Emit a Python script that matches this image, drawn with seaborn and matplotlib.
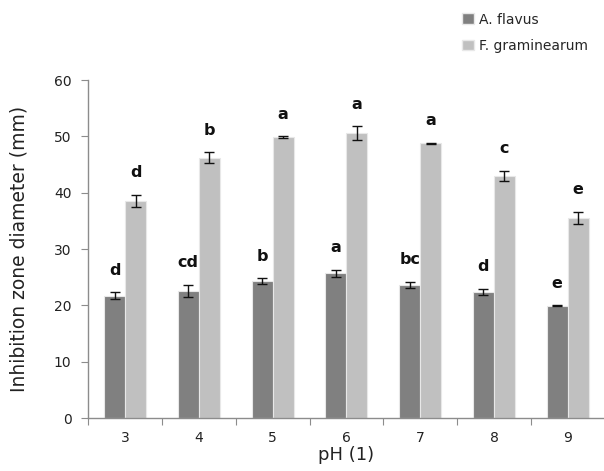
import pandas as pd
import numpy as np
import matplotlib
matplotlib.use("Agg")
import matplotlib.pyplot as plt
import seaborn as sns
from matplotlib.patches import Patch

# ---- data ----
ph = ["3", "4", "5", "6", "7", "8", "9"]
flavus = [21.7, 22.6, 24.3, 25.7, 23.6, 22.4, 19.9]
flavus_err = [0.6, 1.1, 0.5, 0.6, 0.6, 0.5, 0.1]
flavus_sig = ["d", "cd", "b", "a", "bc", "d", "e"]
gram = [38.5, 46.2, 49.9, 50.6, 48.8, 43.0, 35.5]
gram_err = [1.1, 1.0, 0.1, 1.2, 0.1, 0.9, 1.1]
gram_sig = ["d", "b", "a", "a", "a", "c", "e"]
species = ["A. flavus", "F. graminearum"]
colors = ["#808080", "#c0c0c0"]

df = pd.DataFrame({
    "pH": ph * 2,
    "value": flavus + gram,
    "err": flavus_err + gram_err,
    "sig": flavus_sig + gram_sig,
    "species": [species[0]] * len(ph) + [species[1]] * len(ph),
})

sns.set_style("white")
plt.rcParams["font.family"] = ["DejaVu Sans"]

fig = plt.figure(figsize=(6.04, 4.71), dpi=100)
ax = fig.add_axes([0.146, 0.1125, 0.855, 0.7175])

sns.barplot(data=df, x="pH", y="value", hue="species", palette=colors,
            errorbar=None, width=0.57, edgecolor="#e8e8e8", linewidth=0.8,
            legend=False, ax=ax)

# error bars and significance letters on each bar
for i, sp in enumerate(species):
    sub = df[df["species"] == sp].reset_index(drop=True)
    cont = ax.containers[i]
    for bar, (_, row) in zip(cont, sub.iterrows()):
        xc = bar.get_x() + bar.get_width() / 2
        ax.errorbar(xc, row["value"], yerr=row["err"], fmt="none",
                    ecolor="#111111", elinewidth=1.0, capsize=3.5, capthick=1.0)
        ax.text(xc, row["value"] + row["err"] + 2.6, row["sig"],
                ha="center", va="bottom", fontsize=11.5, fontweight="bold",
                color="#111111")

ax.set_ylim(0, 60)
ax.set_yticks(range(0, 61, 10))
ax.set_xlim(-0.5, len(ph) - 0.5)

for s in ["top", "right"]:
    ax.spines[s].set_visible(False)
for s in ["left", "bottom"]:
    ax.spines[s].set_color("#8c8c8c")
    ax.spines[s].set_linewidth(1.0)

# category boundary ticks on x, labels centered
ax.set_xticks(np.arange(-0.5, len(ph), 1.0), minor=False)
ax.set_xticklabels([])
ax.set_xticks(range(len(ph)), minor=True)
ax.set_xticklabels(ph, minor=True)
ax.tick_params(axis="x", which="major", length=5, color="#8c8c8c", direction="out", bottom=True)
ax.tick_params(axis="x", which="minor", length=0, labelsize=10, labelcolor="#222222", pad=9)
ax.tick_params(axis="y", length=5, color="#8c8c8c", direction="out", left=True,
               labelsize=10, labelcolor="#222222", pad=7)

ax.set_xlabel("pH (1)", fontsize=13, color="#222222", labelpad=1)
ax.set_ylabel("Inhibition zone diameter (mm)", fontsize=13.5, color="#222222", labelpad=18)

handles = [Patch(facecolor=c, edgecolor="#e8e8e8", label=s) for c, s in zip(colors, species)]
fig.legend(handles=handles, loc="upper left", bbox_to_anchor=(0.745, 1.0),
           frameon=False, fontsize=10, handlelength=0.8, handleheight=0.8,
           handletextpad=0.4, labelspacing=0.9)

fig.savefig("out.png", dpi=100)
